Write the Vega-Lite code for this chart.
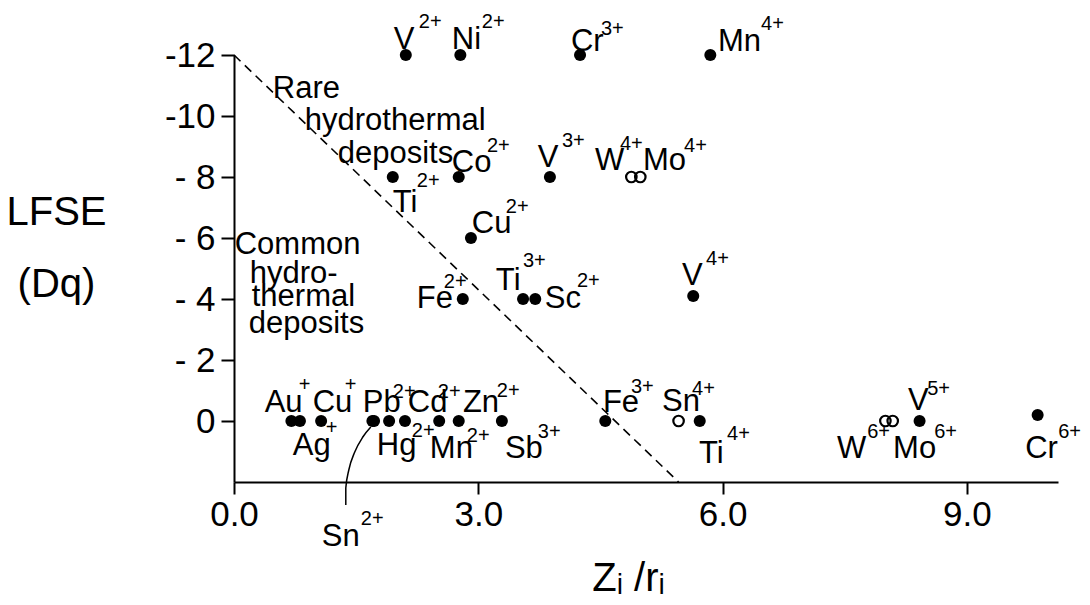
{
  "$schema": "https://vega.github.io/schema/vega-lite/v6.json",
  "autosize": "none",
  "width": 824,
  "height": 427,
  "padding": {"left": 234, "top": 55, "right": 32, "bottom": 123},
  "background": "white",
  "config": {
    "view": {"stroke": null},
    "font": "Liberation Sans, Arial, sans-serif",
    "axis": {
      "grid": false,
      "titleFontWeight": "normal", "titleColor": "black",
      "labelColor": "black", "labelOverlap": false,
      "tickColor": "black", "tickWidth": 2,
      "domainColor": "black", "domainWidth": 2
    }
  },
  "datasets": {
    "ions": [
      {"ion": "V2+", "x": 2.11, "y": -12, "open": false, "name": "V", "nx": 1.963, "ny": -12.197, "charge": "2+", "cx": 2.27, "cy": -12.885},
      {"ion": "Ni2+", "x": 2.78, "y": -12, "open": false, "name": "Ni", "nx": 2.675, "ny": -12.197, "charge": "2+", "cx": 3.044, "cy": -12.885},
      {"ion": "Cr3+", "x": 4.25, "y": -12, "open": false, "name": "Cr", "nx": 4.138, "ny": -12.131, "charge": "3+", "cx": 4.507, "cy": -12.656},
      {"ion": "Mn4+", "x": 5.85, "y": -12, "open": false, "name": "Mn", "nx": 5.944, "ny": -12.131, "charge": "4+", "cx": 6.473, "cy": -12.82},
      {"ion": "Ti2+", "x": 1.95, "y": -8, "open": false, "name": "Ti", "nx": 1.95, "ny": -6.852, "charge": "2+", "cx": 2.245, "cy": -7.672},
      {"ion": "Co2+", "x": 2.76, "y": -8, "open": false, "name": "Co", "nx": 2.675, "ny": -8.164, "charge": "2+", "cx": 3.106, "cy": -8.82},
      {"ion": "V3+", "x": 3.88, "y": -8, "open": false, "name": "V", "nx": 3.732, "ny": -8.328, "charge": "3+", "cx": 4.027, "cy": -8.984},
      {"ion": "W4+", "x": 4.88, "y": -8, "open": true, "name": "W", "nx": 4.433, "ny": -8.23, "charge": "4+", "cx": 4.74, "cy": -8.885},
      {"ion": "Mo4+", "x": 4.99, "y": -8, "open": true, "name": "Mo", "nx": 5.023, "ny": -8.23, "charge": "4+", "cx": 5.527, "cy": -8.82},
      {"ion": "Cu2+", "x": 2.91, "y": -6, "open": false, "name": "Cu", "nx": 2.921, "ny": -6.164, "charge": "2+", "cx": 3.339, "cy": -6.82},
      {"ion": "Fe2+", "x": 2.81, "y": -4, "open": false, "name": "Fe", "nx": 2.245, "ny": -3.705, "charge": "2+", "cx": 2.577, "cy": -4.361},
      {"ion": "Ti3+", "x": 3.55, "y": -4, "open": false, "name": "Ti", "nx": 3.216, "ny": -4.295, "charge": "3+", "cx": 3.548, "cy": -5.049},
      {"ion": "Sc2+", "x": 3.7, "y": -4, "open": false, "name": "Sc", "nx": 3.818, "ny": -3.705, "charge": "2+", "cx": 4.212, "cy": -4.393},
      {"ion": "V4+", "x": 5.64, "y": -4.1, "open": false, "name": "V", "nx": 5.502, "ny": -4.459, "charge": "4+", "cx": 5.797, "cy": -5.115},
      {"ion": "Au+", "x": 0.705, "y": 0, "open": false, "name": "Au", "nx": 0.377, "ny": -0.295, "charge": "+", "cx": 0.795, "cy": -0.984},
      {"ion": "Ag+", "x": 0.81, "y": 0, "open": false, "name": "Ag", "nx": 0.721, "ny": 1.115, "charge": "+", "cx": 1.127, "cy": 0.426},
      {"ion": "Cu+", "x": 1.07, "y": 0, "open": false, "name": "Cu", "nx": 0.967, "ny": -0.295, "charge": "+", "cx": 1.36, "cy": -0.984},
      {"ion": "Sn2+", "x": 1.7, "y": 0, "open": false, "name": "Sn", "nx": 1.078, "ny": 4.098, "charge": "2+", "cx": 1.557, "cy": 3.41},
      {"ion": "Pb2+", "x": 1.72, "y": 0, "open": false, "name": "Pb", "nx": 1.582, "ny": -0.295, "charge": "2+", "cx": 1.95, "cy": -0.754},
      {"ion": "Hg2+", "x": 1.905, "y": 0, "open": false, "name": "Hg", "nx": 1.754, "ny": 1.115, "charge": "2+", "cx": 2.184, "cy": 0.525},
      {"ion": "Cd2+", "x": 2.1, "y": 0, "open": false, "name": "Cd", "nx": 2.135, "ny": -0.295, "charge": "2+", "cx": 2.503, "cy": -0.754},
      {"ion": "Mn2+", "x": 2.52, "y": 0, "open": false, "name": "Mn", "nx": 2.405, "ny": 1.213, "charge": "2+", "cx": 2.86, "cy": 0.689},
      {"ion": "Zn2+", "x": 2.76, "y": 0, "open": false, "name": "Zn", "nx": 2.811, "ny": -0.295, "charge": "2+", "cx": 3.228, "cy": -0.787},
      {"ion": "Sb3+", "x": 3.29, "y": 0, "open": false, "name": "Sb", "nx": 3.327, "ny": 1.213, "charge": "3+", "cx": 3.732, "cy": 0.557},
      {"ion": "Fe3+", "x": 4.56, "y": 0, "open": false, "name": "Fe", "nx": 4.531, "ny": -0.295, "charge": "3+", "cx": 4.875, "cy": -0.918},
      {"ion": "Sn4+", "x": 5.46, "y": 0, "open": true, "name": "Sn", "nx": 5.256, "ny": -0.328, "charge": "4+", "cx": 5.625, "cy": -0.852},
      {"ion": "Ti4+", "x": 5.72, "y": 0, "open": false, "name": "Ti", "nx": 5.711, "ny": 1.377, "charge": "4+", "cx": 6.055, "cy": 0.623},
      {"ion": "W6+", "x": 8.0, "y": 0, "open": true, "name": "W", "nx": 7.407, "ny": 1.213, "charge": "6+", "cx": 7.776, "cy": 0.557},
      {"ion": "Mo6+", "x": 8.09, "y": 0, "open": true, "name": "Mo", "nx": 8.095, "ny": 1.213, "charge": "6+", "cx": 8.599, "cy": 0.557},
      {"ion": "V5+", "x": 8.42, "y": 0, "open": false, "name": "V", "nx": 8.279, "ny": -0.361, "charge": "5+", "cx": 8.513, "cy": -0.852},
      {"ion": "Cr6+", "x": 9.87, "y": -0.2, "open": false, "name": "Cr", "nx": 9.717, "ny": 1.213, "charge": "6+", "cx": 10.123, "cy": 0.557}
    ],
    "notes": [
      {"text": "Rare", "x": 0.476, "y": -10.59},
      {"text": "hydrothermal", "x": 0.869, "y": -9.541},
      {"text": "deposits", "x": 1.274, "y": -8.459},
      {"text": "Common", "x": 0.009, "y": -5.475},
      {"text": "hydro-", "x": 0.193, "y": -4.525},
      {"text": "thermal", "x": 0.218, "y": -3.77},
      {"text": "deposits", "x": 0.181, "y": -2.885}
    ],
    "leader": [
      {"o": 1, "x": 1.373, "y": 2.754},
      {"o": 2, "x": 1.373, "y": 2.197},
      {"o": 3, "x": 1.41, "y": 1.607},
      {"o": 4, "x": 1.483, "y": 1.016},
      {"o": 5, "x": 1.582, "y": 0.525},
      {"o": 6, "x": 1.68, "y": 0.197}
    ],
    "divider": [
      {"x": 0, "y": -12, "x2": 5.46, "y2": 2}
    ]
  },
  "layer": [
    {
      "data": {"name": "divider"},
      "mark": {"type": "rule", "color": "black", "strokeWidth": 1.6, "strokeDash": [9, 6]},
      "encoding": {
        "x": {
          "field": "x", "type": "quantitative",
          "scale": {"domain": [0, 10.12], "nice": false, "zero": false},
          "axis": {
            "values": [0, 3, 6, 9], "format": ".1f",
            "title": "Zᵢ /rᵢ", "titleX": 394, "titleY": 108, "titleAlign": "center",
            "titleBaseline": "alphabetic", "titleFontSize": 40,
            "labelFontSize": 35, "labelPadding": 3, "labelFlush": false,
            "tickSize": 12
          }
        },
        "y": {
          "field": "y", "type": "quantitative",
          "scale": {"domain": [-12, 2], "reverse": true, "nice": false, "zero": false},
          "axis": {
            "values": [-12, -10, -8, -6, -4, -2, 0],
            "labelExpr": "datum.value == 0 ? '0' : (abs(datum.value) >= 10 ? '-' + abs(datum.value) : '- ' + abs(datum.value))",
            "title": ["LFSE", "(Dq)"], "titleAngle": 0, "titleX": -178, "titleY": 169, "titleAlign": "center",
            "titleBaseline": "alphabetic", "titleFontSize": 40, "titleLineHeight": 72,
            "labelFontSize": 35, "labelPadding": 6,
            "tickSize": 13
          }
        },
        "x2": {"field": "x2"},
        "y2": {"field": "y2"}
      }
    },
    {
      "data": {"name": "leader"},
      "mark": {"type": "line", "color": "black", "strokeWidth": 1.5, "interpolate": "monotone"},
      "encoding": {
        "x": {"field": "x", "type": "quantitative"},
        "y": {"field": "y", "type": "quantitative"},
        "order": {"field": "o"}
      }
    },
    {
      "data": {"name": "ions"},
      "transform": [{"filter": "!datum.open"}],
      "mark": {"type": "point", "shape": "circle", "filled": true, "color": "black", "size": 145, "opacity": 1},
      "encoding": {
        "x": {"field": "x", "type": "quantitative"},
        "y": {"field": "y", "type": "quantitative"}
      }
    },
    {
      "data": {"name": "ions"},
      "transform": [{"filter": "datum.open"}],
      "mark": {"type": "point", "shape": "circle", "filled": false, "color": "black", "size": 110, "strokeWidth": 2.2, "opacity": 1},
      "encoding": {
        "x": {"field": "x", "type": "quantitative"},
        "y": {"field": "y", "type": "quantitative"}
      }
    },
    {
      "data": {"name": "ions"},
      "mark": {"type": "text", "align": "left", "baseline": "alphabetic", "fontSize": 31, "color": "black"},
      "encoding": {
        "x": {"field": "nx", "type": "quantitative"},
        "y": {"field": "ny", "type": "quantitative"},
        "text": {"field": "name"}
      }
    },
    {
      "data": {"name": "ions"},
      "mark": {"type": "text", "align": "left", "baseline": "alphabetic", "fontSize": 20, "color": "black"},
      "encoding": {
        "x": {"field": "cx", "type": "quantitative"},
        "y": {"field": "cy", "type": "quantitative"},
        "text": {"field": "charge"}
      }
    },
    {
      "data": {"name": "notes"},
      "mark": {"type": "text", "align": "left", "baseline": "alphabetic", "fontSize": 31, "color": "black"},
      "encoding": {
        "x": {"field": "x", "type": "quantitative"},
        "y": {"field": "y", "type": "quantitative"},
        "text": {"field": "text"}
      }
    }
  ]
}
